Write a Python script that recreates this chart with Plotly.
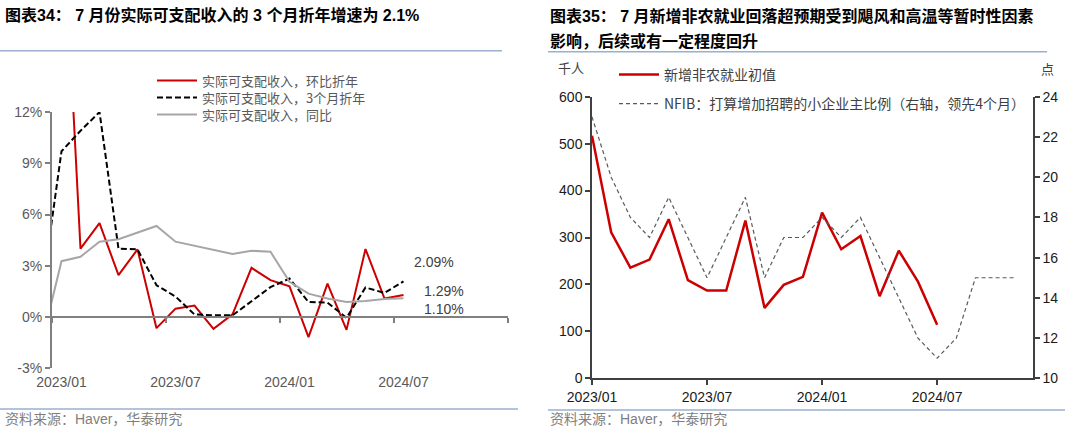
import plotly.graph_objects as go

W, H = 1080, 433

# ---------------- data ----------------
left_months = ["2022/12", "2023/01", "2023/02", "2023/03", "2023/04", "2023/05", "2023/06",
               "2023/07", "2023/08", "2023/09", "2023/10", "2023/11", "2023/12", "2024/01",
               "2024/02", "2024/03", "2024/04", "2024/05", "2024/06", "2024/07"]
inc_mom_ann = [None, 25.6, 4.0, 5.5, 2.45, 3.96, -0.65, 0.49, 0.67, -0.69, 0.16, 2.88, 2.16,
               1.8, -1.18, 1.96, -0.75, 3.98, 1.08, 1.29]
inc_3m_ann = [1.7, 9.7, 10.9, 12.0, 4.0, 3.96, 1.86, 1.2, 0.15, 0.1, 0.1, 0.95, 1.75,
              2.25, 0.88, 0.84, -0.04, 1.73, 1.41, 2.09]
inc_yoy = [-1.3, 3.27, 3.53, 4.41, 4.55, 4.96, 5.33, 4.41, 4.16, 3.92, 3.69, 3.88, 3.82,
           2.06, 1.37, 1.08, 0.88, 0.94, 1.06, 1.10]
left_names = ["实际可支配收入，环比折年", "实际可支配收入，3个月折年", "实际可支配收入，同比"]
end_labels = ["2.09%", "1.29%", "1.10%"]
left_yticks = [-3, 0, 3, 6, 9, 12]
left_yticktext = ["-3%", "0%", "3%", "6%", "9%", "12%"]

nfp_months = ["2023/01", "2023/02", "2023/03", "2023/04", "2023/05", "2023/06", "2023/07",
              "2023/08", "2023/09", "2023/10", "2023/11", "2023/12", "2024/01", "2024/02",
              "2024/03", "2024/04", "2024/05", "2024/06", "2024/07"]
nfp_initial = [517, 311, 236, 253, 339, 209, 187, 187, 336, 150, 199, 216, 353, 275, 303,
               175, 272, 206, 114]
nfib_months = nfp_months + ["2024/08", "2024/09", "2024/10", "2024/11"]
nfib_hiring_lead4 = [23, 20, 18, 17, 19, 17, 15, 17, 19, 15, 17, 17, 18, 17, 18, 16, 14,
                     12, 11, 12, 15, 15, 15]
right_names = ["新增非农就业初值", "NFIB：打算增加招聘的小企业主比例（右轴，领先4个月）"]

tick_labels = ["2023/01", "2023/07", "2024/01", "2024/07"]


def mi(s):
    y, m = s.split("/")
    return (int(y) - 2023) * 12 + int(m) - 1


def px(x):
    return x / W


def py(y):
    return 1 - y / H


FONT = "Liberation Sans, Arial, Noto Sans CJK SC"
CJK = "Noto Sans CJK SC, Liberation Sans"
RED = "#CC0000"

fig = go.Figure()

# ---------------- left chart ----------------
lx = [mi(m) for m in left_months]
fig.add_trace(go.Scatter(x=lx, y=inc_mom_ann, name=left_names[0], mode="lines",
                         line=dict(color=RED, width=2), xaxis="x", yaxis="y",
                         legend="legend"))
fig.add_trace(go.Scatter(x=lx, y=inc_3m_ann, name=left_names[1], mode="lines",
                         line=dict(color="#000000", width=2, dash="6px,3px"),
                         xaxis="x", yaxis="y", legend="legend3"))
fig.add_trace(go.Scatter(x=lx, y=inc_yoy, name=left_names[2], mode="lines",
                         line=dict(color="#A6A6A6", width=2), xaxis="x", yaxis="y",
                         legend="legend4"))
fig.add_trace(go.Scatter(x=[], y=[], xaxis="x4", yaxis="y", showlegend=False,
                         hoverinfo="skip"))

# ---------------- right chart ----------------
fig.add_trace(go.Scatter(x=[mi(m) for m in nfp_months], y=nfp_initial, name=right_names[0],
                         mode="lines", line=dict(color=RED, width=2.5),
                         xaxis="x2", yaxis="y2", legend="legend2"))
fig.add_trace(go.Scatter(x=[mi(m) for m in nfib_months], y=nfib_hiring_lead4,
                         name=right_names[1], mode="lines",
                         line=dict(color="#595959", width=1.2, dash="4px,3px"),
                         xaxis="x2", yaxis="y3", legend="legend5"))

# left axes geometry
ly0, ly1 = py(368.3), py(112)
zero_pos = ly0 + (0 - (-3)) / 15 * (ly1 - ly0)


def leg(x, y, color, size):
    return dict(x=px(x), y=py(y), xanchor="left", yanchor="top",
                bgcolor="rgba(0,0,0,0)", font=dict(family=CJK, size=size, color=color),
                itemwidth=40)


ax_common = dict(showgrid=False, zeroline=False, automargin=False)

fig.update_layout(
    width=W, height=H, margin=dict(l=0, r=0, t=0, b=0, autoexpand=False),
    paper_bgcolor="white", plot_bgcolor="rgba(0,0,0,0)",
    showlegend=True,
    xaxis=dict(domain=[px(52), px(508)], range=[-0.5, 23.5], anchor="y",
               showline=False, ticks="",
               tickvals=[mi(t) for t in tick_labels], ticktext=tick_labels,
               tickfont=dict(family=FONT, size=14, color="#595959"),
               ticklabelstandoff=4, **ax_common),
    xaxis4=dict(overlaying="x", anchor="free", position=zero_pos, range=[-0.5, 23.5],
                showline=True, linecolor="#808080", linewidth=2, ticks="outside",
                ticklen=5, tickwidth=1.5, tickcolor="#808080",
                tickvals=[-0.5, 5.5, 11.5, 17.5, 23.5], showticklabels=False,
                **ax_common),
    yaxis=dict(domain=[ly0, ly1], range=[-3, 12], anchor="x",
               tickvals=left_yticks, ticktext=left_yticktext,
               showline=True, linecolor="#808080", linewidth=2, ticks="outside",
               ticklen=5, tickwidth=1.5, tickcolor="#808080",
               tickfont=dict(family=FONT, size=14, color="#595959"), **ax_common),
    xaxis2=dict(domain=[px(592), px(1033)], range=[0, 23], anchor="y2",
                showline=True, linecolor="#404040", linewidth=1.5, ticks="outside",
                ticklen=5, tickwidth=1.5, tickcolor="#404040",
                tickvals=[mi(t) for t in tick_labels], ticktext=tick_labels,
                tickfont=dict(family=FONT, size=14, color="#1a1a1a"), **ax_common),
    yaxis2=dict(domain=[py(378.3), py(96.7)], range=[0, 600], dtick=100, anchor="x2",
                showline=True, linecolor="#404040", linewidth=1.5, ticks="outside",
                ticklen=5, tickwidth=1.5, tickcolor="#404040",
                tickfont=dict(family=FONT, size=14, color="#1a1a1a"), **ax_common),
    yaxis3=dict(overlaying="y2", side="right", anchor="x2", range=[10, 24], dtick=2,
                showline=True, linecolor="#404040", linewidth=1.5, ticks="outside",
                ticklen=5, tickwidth=1.5, tickcolor="#404040",
                tickfont=dict(family=FONT, size=14, color="#1a1a1a"), **ax_common),
    legend=leg(152, 65.5, "#595959", 13),
    legend3=leg(152, 82.5, "#595959", 13),
    legend4=leg(152, 99.5, "#595959", 13),
    legend2=leg(614, 59, "#404040", 14),
    legend5=leg(614, 88, "#404040", 14),
)

# end labels (left chart)
last_x = mi(left_months[-1])
for val, txt, xs, ys in [(inc_3m_ann[-1], end_labels[0], 8, 19),
                         (inc_mom_ann[-1], end_labels[1], 18, 4),
                         (inc_yoy[-1], end_labels[2], 18, -11)]:
    fig.add_annotation(x=last_x, y=val, xref="x", yref="y", text=txt, showarrow=False,
                       xanchor="left", yanchor="middle", xshift=xs, yshift=ys,
                       font=dict(family=FONT, size=14, color="#404040"))

# titles, units, footers
ann = [
    (3, 15, "<b>图表34： 7 月份实际可支配收入的 3 个月折年增速为 2.1%</b>", 16, "#000000"),
    (548, 16, "<b>图表35： 7 月新增非农就业回落超预期受到飓风和高温等暂时性因素</b>", 16, "#000000"),
    (548, 41, "<b>影响，后续或有一定程度回升</b>", 16, "#000000"),
    (3, 419, "资料来源：Haver，华泰研究", 14, "#7F7F7F"),
    (548, 419, "资料来源：Haver，华泰研究", 14, "#7F7F7F"),
    (556, 69, "千人", 13, "#404040"),
    (1039, 70, "点", 13, "#404040"),
]
for x, y, t, s, c in ann:
    fig.add_annotation(x=px(x), y=py(y), xref="paper", yref="paper", text=t,
                       showarrow=False, xanchor="left", yanchor="middle",
                       font=dict(family=FONT, size=s, color=c))

SEP = "#9AB0CE"
for x0, x1, y in [(0, 502, 50.7), (548, 1047, 51.7), (0, 518, 409), (548, 1065, 410)]:
    fig.add_shape(type="line", xref="paper", yref="paper", x0=px(x0), x1=px(x1),
                  y0=py(y), y1=py(y), line=dict(color=SEP, width=1.5))

fig.write_html("out.html")
